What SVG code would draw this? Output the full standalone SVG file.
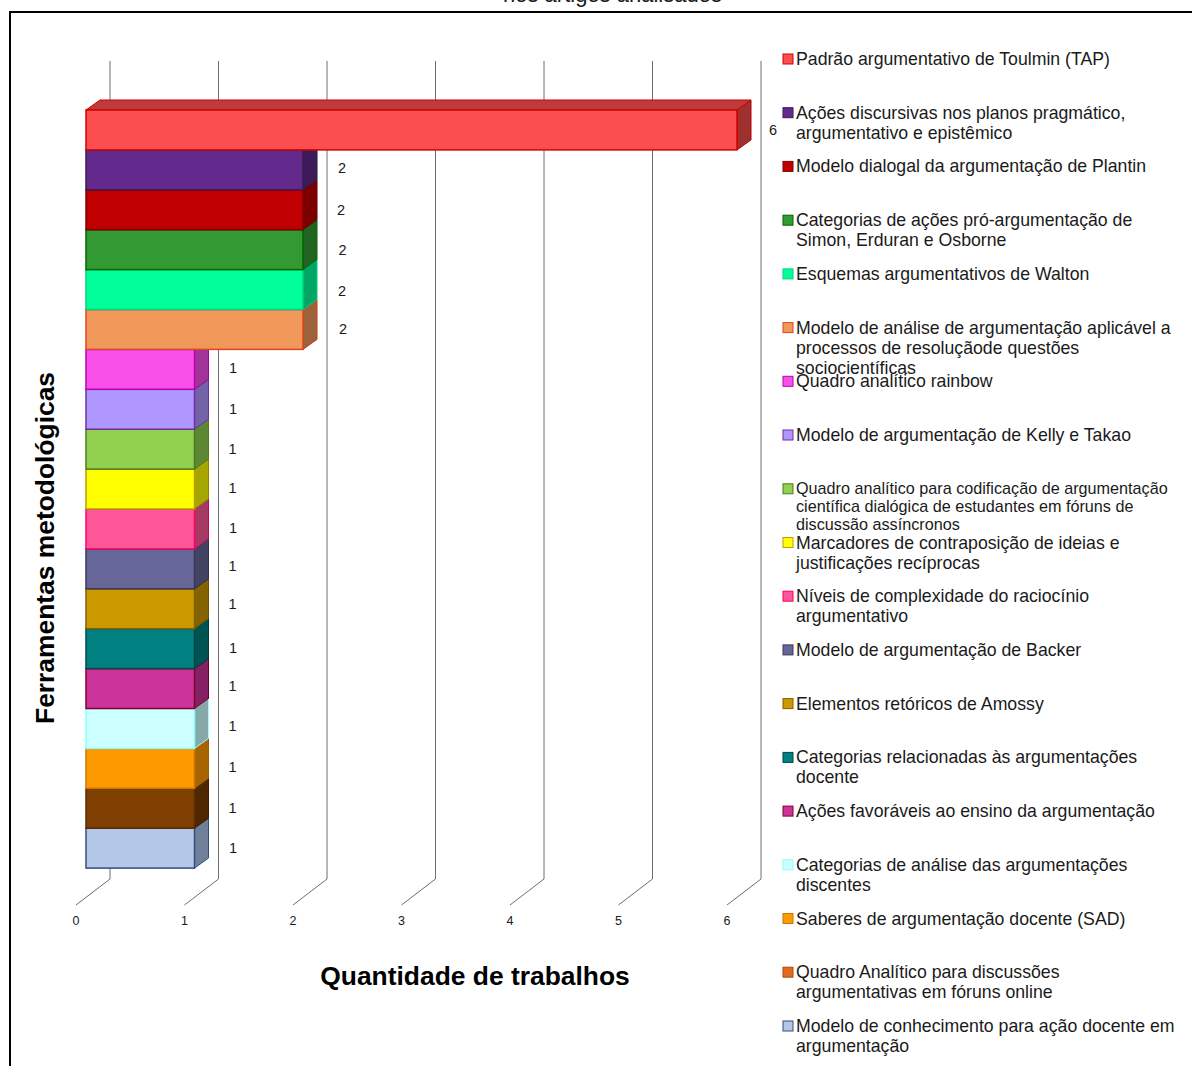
<svg xmlns="http://www.w3.org/2000/svg" width="1192" height="1066" viewBox="0 0 1192 1066">
<style>
text{font-family:"Liberation Sans",Arial,sans-serif;fill:#1a1a1a}
.grid{fill:none;stroke:#6e6e6e;stroke-width:1}
.tick{font-size:12.5px;text-anchor:middle}
.val{font-size:14.5px;text-anchor:middle}
.leg{font-size:17.7px}
.leg2{font-size:16.2px}
.axt{font-size:26.4px;font-weight:bold;fill:#000}
.front{stroke-width:1.5}
.side{stroke-width:1}
</style>
<rect width="1192" height="1066" fill="#fff"/>
<path d="M10,1066 V12 H1192" fill="none" stroke="#000" stroke-width="2"/>
<text x="503" y="1.5" style="font-size:22px">nos artigos analisados</text>

<g id="gridlines">
<path class="grid" d="M110,61 V879 L76,905 M218.5,61 V879 L184.5,905 M327,61 V879 L293,905 M435.5,61 V879 L401.5,905 M544,61 V879 L510,905 M652.5,61 V879 L618.5,905 M761,61 V879 L727,905"/>
<text class="tick" x="76" y="925">0</text>
<text class="tick" x="184.5" y="925">1</text>
<text class="tick" x="293" y="925">2</text>
<text class="tick" x="401.5" y="925">3</text>
<text class="tick" x="510" y="925">4</text>
<text class="tick" x="618.5" y="925">5</text>
<text class="tick" x="727" y="925">6</text>
</g>

<g id="bars">
<g id="bar19">
<polygon class="side" points="194.5,828.2 208.5,818.2 208.5,858.1 194.5,868.1" fill="#6f8098" stroke="#2f4f7f"/>
<rect class="front" x="86" y="828.2" width="108.5" height="39.9" fill="#b4c7e7" stroke="#2f4f7f"/>
</g>
<g id="bar18">
<polygon class="side" points="194.5,788.3 208.5,778.3 208.5,818.2 194.5,828.2" fill="#4f2700" stroke="#3a1c00"/>
<rect class="front" x="86" y="788.3" width="108.5" height="39.9" fill="#7f3f00" stroke="#5a2c00"/>
</g>
<g id="bar17">
<polygon class="side" points="194.5,748.4 208.5,738.4 208.5,778.3 194.5,788.3" fill="#a86400" stroke="#a05800"/>
<rect class="front" x="86" y="748.4" width="108.5" height="39.9" fill="#ff9900" stroke="#cc7700"/>
</g>
<g id="bar16">
<polygon class="side" points="194.5,708.5 208.5,698.5 208.5,738.4 194.5,748.4" fill="#85a8a8" stroke="#99ffff"/>
<rect class="front" x="86" y="708.5" width="108.5" height="39.9" fill="#ccffff" stroke="#88ffff"/>
</g>
<g id="bar15">
<polygon class="side" points="194.5,668.6 208.5,658.6 208.5,698.5 194.5,708.5" fill="#862064" stroke="#600030"/>
<rect class="front" x="86" y="668.6" width="108.5" height="39.9" fill="#cc3399" stroke="#800030"/>
</g>
<g id="bar14">
<polygon class="side" points="194.5,628.7 208.5,618.7 208.5,658.6 194.5,668.6" fill="#005353" stroke="#003838"/>
<rect class="front" x="86" y="628.7" width="108.5" height="39.9" fill="#008080" stroke="#004848"/>
</g>
<g id="bar13">
<polygon class="side" points="194.5,588.8 208.5,578.8 208.5,618.7 194.5,628.7" fill="#846300" stroke="#6a5000"/>
<rect class="front" x="86" y="588.8" width="108.5" height="39.9" fill="#cc9900" stroke="#806000"/>
</g>
<g id="bar12">
<polygon class="side" points="194.5,548.9 208.5,538.9 208.5,578.8 194.5,588.8" fill="#424263" stroke="#30304a"/>
<rect class="front" x="86" y="548.9" width="108.5" height="39.9" fill="#666699" stroke="#383858"/>
</g>
<g id="bar11">
<polygon class="side" points="194.5,509 208.5,499 208.5,538.9 194.5,548.9" fill="#a53a64" stroke="#cc0055"/>
<rect class="front" x="86" y="509" width="108.5" height="39.9" fill="#ff5599" stroke="#ff0066"/>
</g>
<g id="bar10">
<polygon class="side" points="194.5,469.1 208.5,459.1 208.5,499 194.5,509" fill="#a6a600" stroke="#948000"/>
<rect class="front" x="86" y="469.1" width="108.5" height="39.9" fill="#ffff00" stroke="#b8a000"/>
</g>
<g id="bar9">
<polygon class="side" points="194.5,429.2 208.5,419.2 208.5,459.1 194.5,469.1" fill="#5e8734" stroke="#4a7a1a"/>
<rect class="front" x="86" y="429.2" width="108.5" height="39.9" fill="#92d050" stroke="#4f7a1a"/>
</g>
<g id="bar8">
<polygon class="side" points="194.5,389.3 208.5,379.3 208.5,419.2 194.5,429.2" fill="#7262a6" stroke="#6a30a0"/>
<rect class="front" x="86" y="389.3" width="108.5" height="39.9" fill="#b096ff" stroke="#7030a0"/>
</g>
<g id="bar7">
<polygon class="side" points="194.5,349.4 208.5,339.4 208.5,379.3 194.5,389.3" fill="#a23498" stroke="#a000a0"/>
<rect class="front" x="86" y="349.4" width="108.5" height="39.9" fill="#fa50ea" stroke="#b800b0"/>
</g>
<g id="bar6">
<polygon class="side" points="303,309.5 317,299.5 317,339.4 303,349.4" fill="#9c623a" stroke="#c04020"/>
<rect class="front" x="86" y="309.5" width="217" height="39.9" fill="#f0975a" stroke="#dd4422"/>
</g>
<g id="bar5">
<polygon class="side" points="303,269.6 317,259.6 317,299.5 303,309.5" fill="#00a665" stroke="#00cc77"/>
<rect class="front" x="86" y="269.6" width="217" height="39.9" fill="#00ff99" stroke="#00d080"/>
</g>
<g id="bar4">
<polygon class="side" points="303,229.7 317,219.7 317,259.6 303,269.6" fill="#216421" stroke="#006600"/>
<rect class="front" x="86" y="229.7" width="217" height="39.9" fill="#339933" stroke="#006600"/>
</g>
<g id="bar3">
<polygon class="side" points="303,189.8 317,179.8 317,219.7 303,229.7" fill="#7c0000" stroke="#700000"/>
<rect class="front" x="86" y="189.8" width="217" height="39.9" fill="#c00000" stroke="#800000"/>
</g>
<g id="bar2">
<polygon class="side" points="303,149.9 317,139.9 317,179.8 303,189.8" fill="#3f1a5b" stroke="#2e1444"/>
<rect class="front" x="86" y="149.9" width="217" height="39.9" fill="#64298c" stroke="#3a1a50"/>
</g>
<g id="bar1">
<polygon class="side" points="737,110 751,100 751,139.9 737,149.9" fill="#9e3030" stroke="#c00000"/>
<polygon class="side" points="86,110 100,100 751,100 737,110" fill="#be3b3b" stroke="#d00000"/>
<rect class="front" x="86" y="110" width="651" height="39.9" fill="#fb4f4f" stroke="#d40000"/>
</g>
</g>

<g id="values">
<text class="val" x="773" y="135">6</text>
<text class="val" x="342" y="173">2</text>
<text class="val" x="341" y="215">2</text>
<text class="val" x="342.5" y="255">2</text>
<text class="val" x="342" y="296">2</text>
<text class="val" x="343" y="334">2</text>
<text class="val" x="233" y="373">1</text>
<text class="val" x="233" y="414">1</text>
<text class="val" x="232.5" y="454">1</text>
<text class="val" x="232.5" y="493">1</text>
<text class="val" x="233" y="533">1</text>
<text class="val" x="232.5" y="571">1</text>
<text class="val" x="232.5" y="609">1</text>
<text class="val" x="233" y="653">1</text>
<text class="val" x="232.5" y="691">1</text>
<text class="val" x="232.5" y="731">1</text>
<text class="val" x="232.5" y="772">1</text>
<text class="val" x="232.5" y="813">1</text>
<text class="val" x="233" y="853">1</text>
</g>

<text class="axt" transform="translate(54,548) rotate(-90)" text-anchor="middle">Ferramentas metodológicas</text>
<text class="axt" x="475" y="985" text-anchor="middle">Quantidade de trabalhos</text>

<g id="legend">
<g id="leg1"><rect x="783" y="54" width="10" height="10" fill="#fb4f4f" stroke="#d40000"/><text class="leg" x="796" y="65">Padrão argumentativo de Toulmin (TAP)</text></g>
<g id="leg2"><rect x="783" y="107.7" width="10" height="10" fill="#64298c" stroke="#3a1a50"/><text class="leg" x="796" y="118.7">Ações discursivas nos planos pragmático,<tspan x="796" dy="20">argumentativo e epistêmico</tspan></text></g>
<g id="leg3"><rect x="783" y="161.4" width="10" height="10" fill="#c00000" stroke="#800000"/><text class="leg" x="796" y="172.4">Modelo dialogal da argumentação de Plantin</text></g>
<g id="leg4"><rect x="783" y="215.2" width="10" height="10" fill="#339933" stroke="#006600"/><text class="leg" x="796" y="226.2">Categorias de ações pró-argumentação de<tspan x="796" dy="20">Simon, Erduran e Osborne</tspan></text></g>
<g id="leg5"><rect x="783" y="268.9" width="10" height="10" fill="#00ff99" stroke="#00d080"/><text class="leg" x="796" y="279.9">Esquemas argumentativos de Walton</text></g>
<g id="leg6"><rect x="783" y="322.6" width="10" height="10" fill="#f0975a" stroke="#dd4422"/><text class="leg" x="796" y="333.6">Modelo de análise de argumentação aplicável a<tspan x="796" dy="20">processos de resoluçãode questões</tspan><tspan x="796" dy="20">sociocientíficas</tspan></text></g>
<g id="leg7"><rect x="783" y="376.3" width="10" height="10" fill="#fa50ea" stroke="#b800b0"/><text class="leg" x="796" y="387.3">Quadro analítico rainbow</text></g>
<g id="leg8"><rect x="783" y="430" width="10" height="10" fill="#b096ff" stroke="#7030a0"/><text class="leg" x="796" y="441">Modelo de argumentação de Kelly e Takao</text></g>
<g id="leg9"><rect x="783" y="483.8" width="10" height="10" fill="#92d050" stroke="#4f7a1a"/><text class="leg2" x="796" y="494.3">Quadro analítico para codificação de argumentação<tspan x="796" dy="18">científica dialógica de estudantes em fóruns de</tspan><tspan x="796" dy="18">discussão assíncronos</tspan></text></g>
<g id="leg10"><rect x="783" y="537.5" width="10" height="10" fill="#ffff00" stroke="#b8a000"/><text class="leg" x="796" y="548.5">Marcadores de contraposição de ideias e<tspan x="796" dy="20">justificações recíprocas</tspan></text></g>
<g id="leg11"><rect x="783" y="591.2" width="10" height="10" fill="#ff5599" stroke="#ff0066"/><text class="leg" x="796" y="602.2">Níveis de complexidade do raciocínio<tspan x="796" dy="20">argumentativo</tspan></text></g>
<g id="leg12"><rect x="783" y="644.9" width="10" height="10" fill="#666699" stroke="#383858"/><text class="leg" x="796" y="655.9">Modelo de argumentação de Backer</text></g>
<g id="leg13"><rect x="783" y="698.6" width="10" height="10" fill="#cc9900" stroke="#806000"/><text class="leg" x="796" y="709.6">Elementos retóricos de Amossy</text></g>
<g id="leg14"><rect x="783" y="752.4" width="10" height="10" fill="#008080" stroke="#004848"/><text class="leg" x="796" y="763.4">Categorias relacionadas às argumentações<tspan x="796" dy="20">docente</tspan></text></g>
<g id="leg15"><rect x="783" y="806.1" width="10" height="10" fill="#cc3399" stroke="#800030"/><text class="leg" x="796" y="817.1">Ações favoráveis ao ensino da argumentação</text></g>
<g id="leg16"><rect x="783" y="859.8" width="10" height="10" fill="#ccffff" stroke="#88ffff"/><text class="leg" x="796" y="870.8">Categorias de análise das argumentações<tspan x="796" dy="20">discentes</tspan></text></g>
<g id="leg17"><rect x="783" y="913.5" width="10" height="10" fill="#ff9900" stroke="#cc7700"/><text class="leg" x="796" y="924.5">Saberes de argumentação docente (SAD)</text></g>
<g id="leg18"><rect x="783" y="967.2" width="10" height="10" fill="#e06820" stroke="#b04a10"/><text class="leg" x="796" y="978.2">Quadro Analítico para discussões<tspan x="796" dy="20">argumentativas em fóruns online</tspan></text></g>
<g id="leg19"><rect x="783" y="1021" width="10" height="10" fill="#b4c7e7" stroke="#2f4f7f"/><text class="leg" x="796" y="1032">Modelo de conhecimento para ação docente em<tspan x="796" dy="20">argumentação</tspan></text></g>
</g>
</svg>
